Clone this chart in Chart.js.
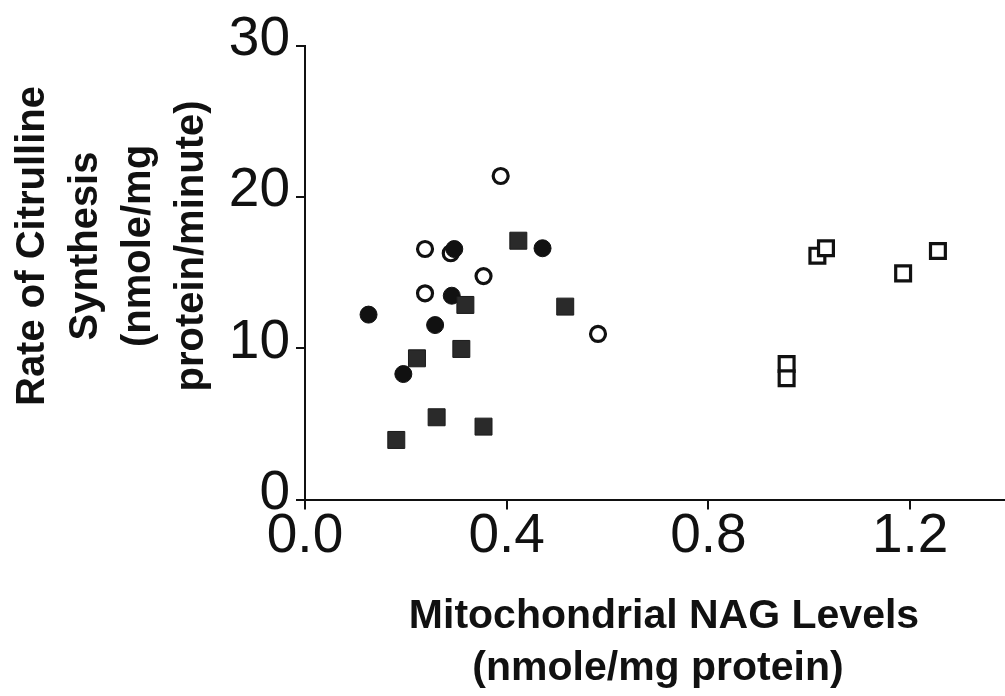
<!DOCTYPE html>
<html>
<head>
<meta charset="utf-8">
<script src="https://cdn.jsdelivr.net/npm/chart.js@4/dist/chart.umd.min.js"></script>
<style>
  html, body { margin: 0; padding: 0; background: #fff; }
  #wrap { width: 1005px; height: 696px; overflow: hidden; }
</style>
</head>
<body>
<div id="wrap"><canvas id="nagChart" width="1005" height="696"></canvas></div>
<script>
// tick labels
const xTicks = [0, 0.4, 0.8, 1.2];
const yTicks = [0, 10, 20, 30];

// open circles
const openCircleX = [0.388, 0.238, 0.289, 0.354, 0.238, 0.581];
const openCircleY = [21.4, 16.57, 16.29, 14.78, 13.64, 10.95];

// filled circles
const filledCircleX = [0.296, 0.471, 0.291, 0.126, 0.258, 0.195];
const filledCircleY = [16.57, 16.62, 13.48, 12.23, 11.54, 8.3];

// filled squares
const filledSquareX = [0.423, 0.318, 0.516, 0.31, 0.222, 0.261, 0.354, 0.181];
const filledSquareY = [17.12, 12.87, 12.76, 9.96, 9.34, 5.44, 4.82, 3.94];

// open squares
const openSquareX = [1.016, 1.033, 1.186, 1.255, 0.955, 0.955];
const openSquareY = [16.13, 16.62, 14.96, 16.44, 8.96, 8.02];

const xTitle = ["Mitochondrial NAG Levels", "(nmole/mg protein)"];
const yTitle = ["Rate of Citrulline", "Synthesis", "(nmole/mg", "protein/minute)"];

function toPoints(xs, ys) {
  return xs.map(function (x, i) {
    return { x: x, y: ys[i] };
  });
}

const ink = "#111";

// axis titles drawn as text on the canvas
const titlePlugin = {
  id: "axisTitles",
  afterDraw: function (chart) {
    const ctx = chart.ctx;
    ctx.save();
    ctx.fillStyle = ink;
    ctx.font = "bold 41px 'Liberation Sans', Arial, sans-serif";
    ctx.textAlign = "center";
    ctx.textBaseline = "alphabetic";
    ctx.fillText(xTitle[0], 664, 628);
    ctx.fillText(xTitle[1], 658, 680);

    ctx.font = "bold 40px 'Liberation Sans', Arial, sans-serif";
    const baseX = [44, 97, 150, 203];
    yTitle.forEach(function (line, i) {
      ctx.save();
      ctx.translate(baseX[i], 246);
      ctx.rotate(-Math.PI / 2);
      ctx.fillText(line, 0, 0);
      ctx.restore();
    });
    ctx.restore();
  },
};

document.addEventListener("DOMContentLoaded", function () {
  initNagChart();
});

function initNagChart() {
  const ctx = document.getElementById("nagChart");
  if (!ctx) return;

  const tickFont = {
    family: "'Liberation Sans', Arial, sans-serif",
    size: 55,
  };

  new Chart(ctx, {
    type: "scatter",
    data: {
      datasets: [
        {
          label: "filled squares",
          data: toPoints(filledSquareX, filledSquareY),
          pointStyle: "rect",
          pointRadius: 12,
          backgroundColor: "#2a2a2a",
          borderColor: "#1a1a1a",
          borderWidth: 1,
        },
        {
          label: "filled circles",
          data: toPoints(filledCircleX, filledCircleY),
          pointStyle: "circle",
          pointRadius: 8.5,
          backgroundColor: ink,
          borderColor: ink,
          borderWidth: 1,
        },
        {
          label: "open circles",
          data: toPoints(openCircleX, openCircleY),
          pointStyle: "circle",
          pointRadius: 7.5,
          backgroundColor: "#fff",
          borderColor: ink,
          borderWidth: 3.2,
        },
        {
          label: "open squares",
          data: toPoints(openSquareX, openSquareY),
          pointStyle: "rect",
          pointRadius: 10.5,
          backgroundColor: "#fff",
          borderColor: ink,
          borderWidth: 3.2,
        },
      ],
    },
    options: {
      responsive: false,
      animation: false,
      layout: {
        autoPadding: false,
        padding: { top: 46, left: 0, right: 0, bottom: 0 },
      },
      plugins: {
        legend: { display: false },
        tooltip: { enabled: false },
      },
      scales: {
        x: {
          type: "linear",
          min: 0,
          max: 1.388,
          afterBuildTicks: function (scale) {
            scale.ticks = xTicks.map(function (v) {
              return { value: v };
            });
          },
          afterFit: function (scale) {
            scale.height = 196.5;
            scale.paddingLeft = 0;
            scale.paddingRight = 0;
          },
          grid: {
            drawOnChartArea: false,
            drawTicks: true,
            tickLength: 10,
            color: ink,
            lineWidth: 2,
          },
          border: { color: ink, width: 2 },
          ticks: {
            color: ink,
            font: tickFont,
            padding: -6,
            maxRotation: 0,
            callback: function (v) {
              return Number(v).toFixed(1);
            },
          },
        },
        y: {
          type: "linear",
          min: 0,
          max: 30,
          afterBuildTicks: function (scale) {
            scale.ticks = yTicks.map(function (v) {
              return { value: v };
            });
          },
          afterFit: function (scale) {
            scale.width = 305;
            scale.paddingTop = 0;
            scale.paddingBottom = 0;
          },
          grid: {
            drawOnChartArea: false,
            drawTicks: true,
            tickLength: 9,
            color: ink,
            lineWidth: 2,
          },
          border: { color: ink, width: 2 },
          ticks: {
            color: ink,
            font: tickFont,
            padding: 6,
            labelOffset: -6,
          },
        },
      },
    },
    plugins: [titlePlugin],
  });
}
</script>
</body>
</html>
